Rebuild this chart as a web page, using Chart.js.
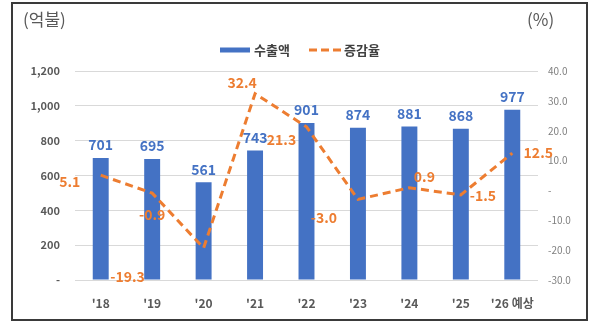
<!DOCTYPE html>
<html>
<head>
<meta charset="utf-8">
<script src="https://cdn.jsdelivr.net/npm/chart.js@4/dist/chart.umd.min.js"></script>
<style>
html,body{margin:0;padding:0;background:#fff;}
#wrap{position:relative;width:592px;height:327px;}
</style>
</head>
<body>
<div id="wrap"><canvas id="c" width="592" height="327"></canvas></div>
<script>
const categories = ["'18", "'19", "'20", "'21", "'22", "'23", "'24", "'25", "'26 예상"];
const exportValues = [701, 695, 561, 743, 901, 874, 881, 868, 977];
const growthRates = [5.1, -0.9, -19.3, 32.4, 21.3, -3.0, 0.9, -1.5, 12.5];
const leftTicks = [0, 200, 400, 600, 800, 1000, 1200];
const rightTicks = [-30, -20, -10, 0, 10, 20, 30, 40];
const seriesNames = ['수출액', '증감율'];
const leftUnit = '(억불)';
const rightUnit = '(%)';

// label offsets (px) relative to each line point – styling only
const rateLabelOffsets = [[-31,6],[0,22],[-76,29],[-13,-11],[-25,13],[-34,18],[15,-11],[22,1],[26,0]];

const BLUE = '#4472C4';
const ORANGE = '#ED7D31';
const FONT = '"Noto Sans CJK KR", "Noto Sans", sans-serif';

const decor = {
  id: 'decor',
  afterDatasetsDraw(chart) {
    const ctx = chart.ctx;
    ctx.save();
    // bar value labels
    const barMeta = chart.getDatasetMeta(1);
    ctx.font = 'bold 14px ' + FONT;
    ctx.fillStyle = BLUE;
    ctx.textAlign = 'center';
    ctx.textBaseline = 'middle';
    barMeta.data.forEach((el, i) => {
      ctx.fillText(String(exportValues[i]), el.x, el.y - 13);
    });
    // line labels
    const lineMeta = chart.getDatasetMeta(0);
    ctx.fillStyle = ORANGE;
    lineMeta.data.forEach((el, i) => {
      const o = rateLabelOffsets[i];
      ctx.fillText(growthRates[i].toFixed(1), el.x + o[0], el.y + o[1]);
    });
    ctx.restore();
  },
  afterDraw(chart) {
    const ctx = chart.ctx;
    ctx.save();
    // units
    ctx.font = '17px ' + FONT;
    ctx.fillStyle = '#595959';
    ctx.textBaseline = 'middle';
    ctx.textAlign = 'left';
    ctx.fillText(leftUnit, 23, 20);
    ctx.fillText(rightUnit, 527, 20);
    // legend
    ctx.fillStyle = BLUE;
    ctx.fillRect(220, 47.5, 30, 5);
    ctx.font = 'bold 13px ' + FONT;
    ctx.fillStyle = '#404040';
    ctx.fillText(seriesNames[0], 254, 50);
    ctx.strokeStyle = ORANGE;
    ctx.lineWidth = 3;
    ctx.setLineDash([8, 4]);
    ctx.beginPath();
    ctx.moveTo(309, 50);
    ctx.lineTo(342, 50);
    ctx.stroke();
    ctx.setLineDash([]);
    ctx.fillText(seriesNames[1], 344, 50);
    // frame
    ctx.strokeStyle = '#3a3a3a';
    ctx.lineWidth = 2;
    ctx.strokeRect(12, 3, 575, 317);
    ctx.restore();
  }
};

new Chart(document.getElementById('c'), {
  data: {
    labels: categories,
    datasets: [
      {
        type: 'line',
        label: seriesNames[1],
        data: growthRates,
        yAxisID: 'y2',
        borderColor: ORANGE,
        borderWidth: 3,
        borderDash: [8, 5],
        pointRadius: 0,
        tension: 0,
        fill: false,
        order: 0
      },
      {
        type: 'bar',
        label: seriesNames[0],
        data: exportValues,
        yAxisID: 'y',
        backgroundColor: BLUE,
        categoryPercentage: 1,
        barPercentage: 0.31,
        order: 1
      }
    ]
  },
  options: {
    responsive: false,
    animation: false,
    layout: { padding: { top: 71, left: 0, right: 0, bottom: 0 } },
    plugins: { legend: { display: false }, tooltip: { enabled: false } },
    scales: {
      x: {
        grid: { display: false },
        border: { display: false },
        ticks: { color: '#595959', font: { family: FONT, size: 12, weight: 'bold' }, padding: 8, maxRotation: 0, autoSkip: false },
        afterFit(s) { s.height = 47; }
      },
      y: {
        position: 'left',
        min: 0, max: 1200,
        afterBuildTicks(s) { s.ticks = leftTicks.map(v => ({ value: v })); },
        grid: { color: '#D9D9D9', lineWidth: 1, drawTicks: false },
        border: { display: false },
        ticks: {
          color: '#595959',
          font: { family: FONT, size: 11, weight: 'bold' },
          padding: 15,
          callback: v => v === 0 ? '-' : v.toLocaleString('en-US')
        },
        afterFit(s) { s.width = 75; }
      },
      y2: {
        position: 'right',
        min: -30, max: 40,
        afterBuildTicks(s) { s.ticks = rightTicks.map(v => ({ value: v })); },
        grid: { display: false, drawTicks: false },
        border: { display: false },
        ticks: {
          color: '#7F7F7F',
          font: { family: FONT, size: 10 },
          padding: 10,
          callback: v => v === 0 ? '-' : v.toFixed(1)
        },
        afterFit(s) { s.width = 54; }
      }
    }
  },
  plugins: [decor]
});
</script>
</body>
</html>
